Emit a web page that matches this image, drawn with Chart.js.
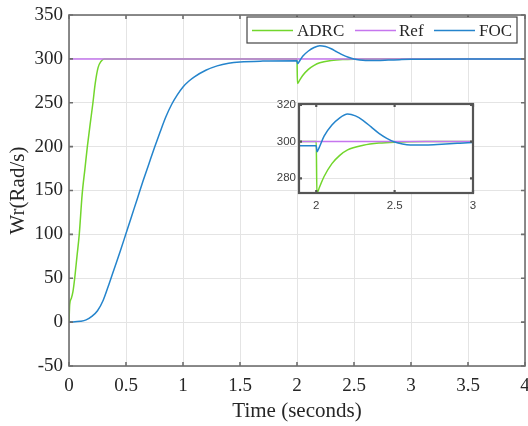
<!DOCTYPE html>
<html>
<head>
<meta charset="utf-8">
<script src="https://cdn.jsdelivr.net/npm/chart.js@4.4.0/dist/chart.umd.min.js"></script>
<style>
  html, body { margin: 0; padding: 0; background: #fff; }
  #wrap { position: relative; width: 528px; height: 426px; }
  #inset { position: absolute; left: 265px; top: 95px; }
</style>
</head>
<body>
<div id="wrap">
  <canvas id="main" width="528" height="426"></canvas>
  <canvas id="inset" width="215" height="120"></canvas>
</div>
<script>
// ==========================================================================
// Data
// ==========================================================================
var seriesNames = ['ADRC', 'Ref', 'FOC'];

var adrcT = [0, 0.006, 0.02, 0.035, 0.05, 0.07, 0.09, 0.115, 0.14, 0.161, 0.185, 0.21, 0.23, 0.255, 0.28, 0.31,
             2.0, 2.004, 2.02, 2.05, 2.1, 2.15, 2.2, 2.3, 2.4, 2.5, 2.7, 3.0, 4.0];
var adrcW = [0, 20, 27, 35, 50, 75, 100, 145, 175, 200, 225, 250, 272, 290, 297, 300,
             300, 272, 275, 281, 288, 292.5, 295.5, 298, 299.2, 299.7, 300, 300, 300];

var refT = [0, 4];
var refW = [300, 300];

var focT = [0, 0.1, 0.15, 0.2, 0.25, 0.3, 0.35, 0.4, 0.45, 0.5, 0.55, 0.6, 0.65, 0.7, 0.75, 0.8, 0.85, 0.9, 0.95,
            1.0, 1.05, 1.1, 1.2, 1.3, 1.4, 1.5, 1.7, 2.0,
            2.005, 2.02, 2.05, 2.1, 2.15, 2.2, 2.25, 2.3, 2.35, 2.4, 2.45, 2.5, 2.55, 2.6, 2.7, 2.8, 2.9, 3.0, 3.5, 4.0];
var focW = [0, 1, 2.5, 6.5, 13, 25, 43, 62, 81, 101, 121, 141, 161, 180, 199, 217, 234, 248, 259,
            268, 274.5, 279.5, 287, 292, 295, 296.5, 297.5, 297.8,
            294.5, 297, 303, 309, 313, 315, 314, 311.5, 308, 304.5, 301.8, 299.8, 298.7, 298.2, 298.2, 298.6, 299.1, 299.5, 300, 300];

var mainXTicks = [0, 0.5, 1, 1.5, 2, 2.5, 3, 3.5, 4];
var mainYTicks = [-50, 0, 50, 100, 150, 200, 250, 300, 350];
var insetXTicks = [2, 2.5, 3];
var insetYTicks = [280, 300, 320];

var colors = ['#72d62c', '#c576ee', '#2484cc'];

function pts(t, w) {
  return t.map(function(v, i) { return {x: v, y: w[i]}; });
}

function makeDatasets() {
  var tw = [[adrcT, adrcW], [refT, refW], [focT, focW]];
  var order = [3, 2, 1];
  return seriesNames.map(function(name, i) {
    return {
      label: name,
      data: pts(tw[i][0], tw[i][1]),
      borderColor: colors[i],
      borderWidth: 1.5,
      pointRadius: 0,
      cubicInterpolationMode: 'monotone',
      tension: 0.4,
      order: order[i]
    };
  });
}

// ==========================================================================
// Plugins: MATLAB style box with inward ticks, and legend inside the axes
// ==========================================================================
var framePlugin = {
  id: 'frame',
  beforeDraw: function(chart, args, opts) {
    if (!opts.fill) return;
    var a = chart.chartArea, ctx = chart.ctx;
    ctx.save();
    ctx.fillStyle = '#fff';
    ctx.fillRect(a.left, a.top, a.right - a.left, a.bottom - a.top);
    ctx.restore();
  },
  afterDatasetsDraw: function(chart, args, opts) {
    var a = chart.chartArea, ctx = chart.ctx;
    var len = opts.tick || 4;
    ctx.save();
    ctx.strokeStyle = opts.color || '#666';
    ctx.lineWidth = opts.width || 1.5;
    ctx.beginPath();
    chart.scales.x.ticks.forEach(function(t) {
      var px = chart.scales.x.getPixelForValue(t.value);
      ctx.moveTo(px, a.bottom); ctx.lineTo(px, a.bottom - len);
      ctx.moveTo(px, a.top); ctx.lineTo(px, a.top + len);
    });
    chart.scales.y.ticks.forEach(function(t) {
      var py = chart.scales.y.getPixelForValue(t.value);
      ctx.moveTo(a.left, py); ctx.lineTo(a.left + len, py);
      ctx.moveTo(a.right, py); ctx.lineTo(a.right - len, py);
    });
    ctx.stroke();
    ctx.strokeRect(a.left, a.top, a.right - a.left, a.bottom - a.top);
    ctx.restore();
  }
};

var boxLegendPlugin = {
  id: 'boxLegend',
  afterDraw: function(chart, args, opts) {
    if (!opts.show) return;
    var ctx = chart.ctx;
    var x0 = 247, y0 = 17, w = 270, h = 26, cy = 30.5;
    var items = [[252, 293, 297], [355, 396, 399], [434, 475, 479]];
    ctx.save();
    ctx.fillStyle = '#fff';
    ctx.fillRect(x0, y0, w, h);
    ctx.strokeStyle = '#444';
    ctx.lineWidth = 1.2;
    ctx.strokeRect(x0, y0, w, h);
    ctx.font = '17px "Liberation Serif"';
    ctx.textBaseline = 'middle';
    ctx.textAlign = 'left';
    seriesNames.forEach(function(name, i) {
      ctx.strokeStyle = colors[i];
      ctx.lineWidth = 1.5;
      ctx.beginPath();
      ctx.moveTo(items[i][0], cy); ctx.lineTo(items[i][1], cy);
      ctx.stroke();
      ctx.fillStyle = '#262626';
      ctx.fillText(name, items[i][2], cy + 1);
    });
    ctx.restore();
  }
};

Chart.register(framePlugin, boxLegendPlugin);

function fixTicks(list) {
  return function(scale) {
    scale.ticks = list.map(function(v) { return {value: v}; });
  };
}

function plainLabel(v) {
  return String(v);
}

// ==========================================================================
// Main chart
// ==========================================================================
var serif = 'Liberation Serif';

new Chart(document.getElementById('main'), {
  type: 'line',
  data: { datasets: makeDatasets() },
  options: {
    responsive: false,
    animation: false,
    devicePixelRatio: 1,
    layout: { padding: { top: 15, right: 3, left: 0, bottom: 0 } },
    plugins: {
      legend: { display: false },
      tooltip: { enabled: false },
      frame: { color: '#6e6e6e', width: 1.6, tick: 4 },
      boxLegend: { show: true }
    },
    scales: {
      x: {
        type: 'linear', min: 0, max: 4,
        afterBuildTicks: fixTicks(mainXTicks),
        ticks: { color: '#262626', font: { family: serif, size: 19 }, padding: 9, maxRotation: 0, callback: plainLabel },
        grid: { color: '#e4e4e4', drawTicks: false },
        border: { display: false },
        title: { display: true, text: 'Time (seconds)', color: '#262626',
                 font: { family: serif, size: 21 }, padding: { top: 0, bottom: 2 } },
        afterFit: function(s) { s.height = 60; s.paddingLeft = 0; s.paddingRight = 0; }
      },
      y: {
        type: 'linear', min: -50, max: 350,
        afterBuildTicks: fixTicks(mainYTicks),
        ticks: { color: '#262626', font: { family: serif, size: 19 }, padding: 6, callback: plainLabel },
        grid: { color: '#e4e4e4', drawTicks: false },
        border: { display: false },
        title: { display: true, text: 'Wr(Rad/s)', color: '#262626',
                 font: { family: serif, size: 21 }, padding: { top: 6, bottom: 0 } },
        afterFit: function(s) { s.width = 69; s.paddingTop = 0; s.paddingBottom = 0; }
      }
    }
  }
});

// ==========================================================================
// Zoomed inset around the load step
// ==========================================================================
var sans = 'Liberation Sans';

new Chart(document.getElementById('inset'), {
  type: 'line',
  data: { datasets: makeDatasets() },
  options: {
    responsive: false,
    animation: false,
    devicePixelRatio: 1,
    layout: { padding: { top: 9, right: 7, left: 0, bottom: 0 } },
    plugins: {
      legend: { display: false },
      tooltip: { enabled: false },
      frame: { color: '#555', width: 2.2, tick: 3, fill: true }
    },
    scales: {
      x: {
        type: 'linear', min: 1.89, max: 3.0,
        afterBuildTicks: fixTicks(insetXTicks),
        ticks: { color: '#404040', font: { family: sans, size: 11.5 }, padding: 6, maxRotation: 0, callback: plainLabel },
        grid: { color: '#e4e4e4', drawTicks: false },
        border: { display: false },
        afterFit: function(s) { s.height = 22; s.paddingLeft = 0; s.paddingRight = 0; }
      },
      y: {
        type: 'linear', min: 272, max: 320.5,
        afterBuildTicks: fixTicks(insetYTicks),
        ticks: { color: '#404040', font: { family: sans, size: 11.5 }, padding: 3, callback: plainLabel },
        grid: { color: '#e4e4e4', drawTicks: false },
        border: { display: false },
        afterFit: function(s) { s.width = 34; s.paddingTop = 0; s.paddingBottom = 0; }
      }
    }
  }
});
</script>
</body>
</html>
